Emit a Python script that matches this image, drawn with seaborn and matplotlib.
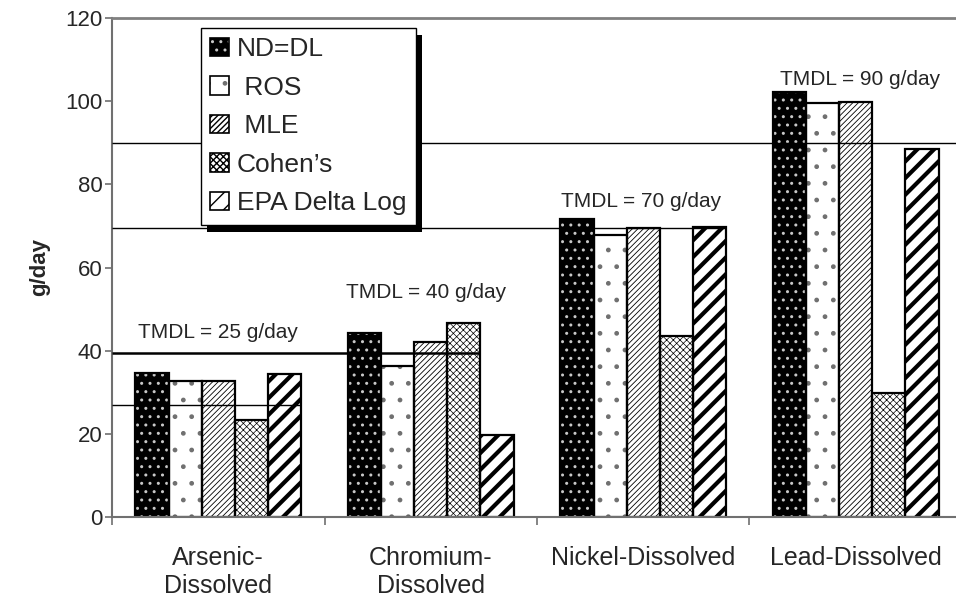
import numpy as np
import pandas as pd
import matplotlib
matplotlib.use("Agg")
import matplotlib.pyplot as plt
from matplotlib.patches import Patch, Rectangle
from matplotlib.transforms import IdentityTransform
import seaborn as sns

# chart data
categories = ["Arsenic-\nDissolved", "Chromium-\nDissolved", "Nickel-Dissolved", "Lead-Dissolved"]
methods = ["ND=DL", "ROS", "MLE", "Cohen\u2019s", "EPA Delta Log"]
legend_labels = ["ND=DL", " ROS", " MLE", "Cohen\u2019s", "EPA Delta Log"]
nd_dl = [34.6, 44.3, 71.6, 102.1]
ros = [32.8, 36.3, 67.8, 99.5]
mle = [32.8, 42.1, 69.6, 99.7]
cohens = [23.3, 46.7, 43.6, 29.7]
epa_delta_log = [34.4, 19.6, 69.8, 88.5]

# TMDL annotations and the reference lines drawn across the plot
tmdl_text = ["TMDL = 25 g/day", "TMDL = 40 g/day", "TMDL = 70 g/day", "TMDL = 90 g/day"]
tmdl_text_y = [43.0, 52.7, 74.6, 103.9]
tmdl_text_x = [0.0, 0.98, 1.99, 3.02]
tmdl_line_y = [27.0, 39.4, 69.4, 90.0]
tmdl_line_end = [0.39, 1.234, 2.39, 3.5]
tmdl_line_w = [1.0, 1.8, 1.0, 1.0]

# bar styling per method: face, hatch, hatch colour, hatch linewidth
styles = {
    "ND=DL": ("black", "..", "#c8c8c8", 1.0),
    "ROS": ("white", ".", "#707070", 1.0),
    "MLE": ("white", "//////", "black", 0.6),
    "Cohen\u2019s": ("white", "xxxxx", "black", 0.5),
    "EPA Delta Log": ("white", "//", "black", 3.0),
}

sns.set_style("ticks")
plt.rcParams["font.family"] = ["Liberation Sans", "DejaVu Sans"]
plt.rcParams["hatch.linewidth"] = 1.0

df = pd.DataFrame({"Parameter": categories, methods[0]: nd_dl, methods[1]: ros,
                   methods[2]: mle, methods[3]: cohens, methods[4]: epa_delta_log})
df = df.melt(id_vars="Parameter", var_name="Method", value_name="g/day")

fig = plt.figure(figsize=(9.56, 5.98), dpi=100)
ax = fig.add_axes([112 / 956, 81 / 598, 850 / 956, 499 / 598])

sns.barplot(data=df, x="Parameter", y="g/day", hue="Method", hue_order=methods,
            palette=["white"] * 5, width=0.78, gap=0, saturation=1,
            edgecolor="black", linewidth=0, legend=False, ax=ax)


def style_patch(p, method):
    fc, hatch, hc, hlw = styles[method]
    p.set_facecolor(fc)
    p.set_hatch(hatch)
    p.set_edgecolor(hc)
    p.set_linewidth(0)
    if hasattr(p, "set_hatch_linewidth"):
        p.set_hatch_linewidth(hlw)


for method, cont in zip(methods, ax.containers):
    for p in cont:
        style_patch(p, method)
        ax.add_patch(Rectangle(p.get_xy(), p.get_width(), p.get_height(), fill=False,
                               edgecolor="black", linewidth=1.6, zorder=2.5))

# TMDL lines and labels
for y, xe, lw in zip(tmdl_line_y, tmdl_line_end, tmdl_line_w):
    ax.hlines(y, -0.5, xe, colors="black", linewidth=lw, zorder=3)
for x, y, t in zip(tmdl_text_x, tmdl_text_y, tmdl_text):
    ax.text(x, y, t, ha="center", va="baseline", fontsize=15, zorder=4)

ax.set_xlim(-0.5, 3.5)
ax.set_ylim(0, 120)
ax.set_yticks(np.arange(0, 121, 20))
ax.tick_params(axis="y", direction="out", length=5, width=1.2, color="#707070",
               labelsize=16, pad=2)

ax.set_xticks([-0.5, 0.5, 1.5, 2.5, 3.5])
ax.set_xticklabels([])
ax.set_xticks(range(len(categories)), minor=True)
ax.set_xticklabels(categories, minor=True)
ax.tick_params(axis="x", which="major", direction="out", length=6, width=1.2, color="#707070")
ax.tick_params(axis="x", which="minor", length=0, labelsize=18, pad=21)
for lab in ax.get_xticklabels(minor=True):
    lab.set_linespacing(1.2)

ax.set_xlabel("")
ax.set_ylabel("g/day", fontsize=16, fontweight="bold")
ax.yaxis.set_label_coords(-0.073, 0.5)

for side in ["left", "bottom"]:
    ax.spines[side].set_color("#707070")
    ax.spines[side].set_linewidth(1.5)
ax.spines["top"].set_visible(True)
ax.spines["top"].set_color("#808080")
ax.spines["top"].set_linewidth(2)
ax.spines["right"].set_visible(False)

# legend with square hatched keys
handles = []
for method in methods:
    fc, hatch, hc, hlw = styles[method]
    hp = Patch(facecolor=fc, hatch=hatch, edgecolor=hc, linewidth=0)
    if hasattr(hp, "set_hatch_linewidth"):
        hp.set_hatch_linewidth(min(hlw, 1.5))
    op = Patch(fill=False, edgecolor="black", linewidth=1.2)
    handles.append((hp, op))
leg = ax.legend(handles, legend_labels, loc="upper left", bbox_to_anchor=(0.105, 0.98),
                borderaxespad=0, fontsize=19, frameon=True, fancybox=False, framealpha=1,
                edgecolor="black", handlelength=0.7, handleheight=0.7,
                handletextpad=0.3, labelspacing=0.55, borderpad=0.35)
leg.get_frame().set_linewidth(1.0)
leg.set_zorder(6)

# black drop shadow behind the legend
fig.canvas.draw()
bb = leg.get_window_extent()
ax.add_patch(Rectangle((bb.x0 + 6, bb.y0 - 7), bb.width, bb.height, transform=IdentityTransform(),
                       facecolor="black", edgecolor="none", zorder=5.9, clip_on=False))
ax.set_xlim(-0.5, 3.5)
ax.set_ylim(0, 120)

fig.savefig("out.png", dpi=100)
